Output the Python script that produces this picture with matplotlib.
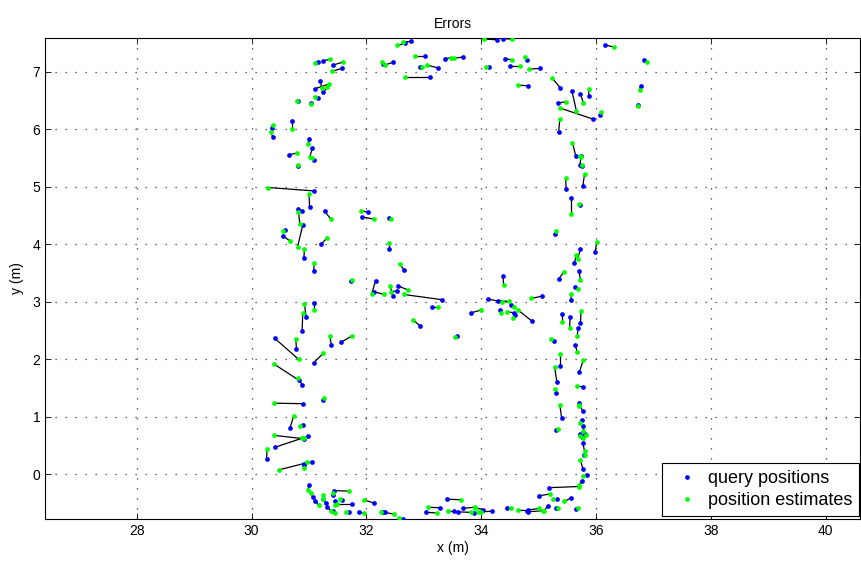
import matplotlib; matplotlib.use("Agg")
import matplotlib.pyplot as plt
import numpy as np

plt.rcParams["font.family"] = ["Liberation Sans", "DejaVu Sans"]

# query positions (blue) and matching position estimates (green), metres
qx = [31.16, 31.24, 31.42, 31.57, 31.20, 31.11, 31.25, 30.81, 31.15, 31.04,
      30.71, 30.35, 30.37, 31.00, 31.06, 31.08, 30.65, 30.81, 32.29, 32.78,
      32.68, 32.47, 33.02, 32.94, 33.25, 33.37, 33.69, 33.11, 34.27, 34.38,
      34.42, 34.13, 34.51, 34.80, 34.81, 35.03, 35.38, 35.58, 35.95, 35.34,
      35.73, 35.88, 36.07, 36.16, 36.83, 36.78, 36.74, 35.35, 35.65, 35.74,
      35.72, 35.75, 35.48, 35.77, 35.56, 35.72, 35.28, 35.98, 35.73, 35.62,
      35.35, 35.70, 35.64, 35.56, 35.06, 34.88, 35.41, 35.55, 35.73, 35.69,
      35.26, 35.64, 35.38, 35.71, 35.32, 35.77, 35.30, 35.40, 35.70, 35.77,
      35.31, 35.75, 35.77, 35.73, 35.80, 35.75, 35.77, 35.79, 35.77, 35.84,
      35.75, 35.19, 35.01, 35.32, 35.56, 35.16, 34.81, 34.82, 35.30, 35.66,
      33.40, 33.28, 33.04, 33.52, 33.59, 33.69, 34.03, 34.18, 33.87, 34.45,
      34.80, 32.32, 32.63, 30.67, 30.89, 30.92, 30.40, 30.98, 30.26, 30.91,
      31.06, 30.92, 31.00, 31.07, 31.11, 31.25, 31.30, 31.32, 31.42, 31.43,
      31.42, 31.45, 31.75, 31.58, 31.69, 31.87, 32.14, 32.29, 31.73, 32.16,
      32.13, 32.47, 32.55, 32.53, 33.31, 33.14, 32.94, 33.57, 33.82, 34.12,
      34.29, 34.52, 34.32, 34.58, 34.59, 34.38, 32.40, 32.40, 32.65, 31.09,
      31.01, 30.81, 30.88, 30.89, 31.27, 32.03, 31.92, 30.58, 30.54, 31.21,
      30.91, 31.08, 30.95, 31.09, 30.88, 30.40, 30.78, 31.39, 31.56, 31.08,
      30.82, 30.88, 31.24, 30.89]
qy = [7.18, 7.19, 7.12, 7.06, 6.84, 6.71, 6.65, 6.49, 6.54, 6.46,
      6.14, 6.02, 5.87, 5.83, 5.67, 5.46, 5.56, 5.37, 7.13, 7.53,
      7.50, 7.17, 7.28, 7.09, 7.07, 7.23, 7.26, 6.92, 7.56, 7.58,
      7.23, 7.09, 7.11, 7.20, 6.76, 7.06, 6.72, 6.67, 6.18, 6.46,
      6.62, 6.58, 6.25, 7.47, 7.20, 6.76, 6.42, 5.96, 5.53, 5.54,
      5.39, 5.37, 4.97, 5.01, 4.80, 4.68, 4.18, 3.86, 3.92, 3.67,
      3.40, 3.54, 3.26, 3.03, 3.10, 2.67, 2.79, 2.74, 2.64, 2.54,
      2.32, 2.25, 1.88, 1.78, 1.60, 1.52, 1.42, 0.99, 1.25, 1.11,
      0.77, 0.94, 0.84, 0.70, 0.70, 0.65, 0.55, 0.33, 0.10, -0.01,
      -0.11, -0.23, -0.37, -0.43, -0.41, -0.55, -0.62, -0.65, -0.59, -0.60,
      -0.43, -0.58, -0.66, -0.63, -0.65, -0.59, -0.61, -0.64, -0.67, -0.59,
      -0.63, -0.66, -0.77, 0.81, 0.86, 0.62, 0.47, 0.67, 0.26, 0.19,
      0.21, 0.17, -0.19, -0.40, -0.47, -0.42, -0.50, -0.57, -0.64, -0.28,
      -0.36, -0.46, -0.52, -0.44, -0.66, -0.66, -0.50, -0.66, 3.37, 3.37,
      3.18, 3.10, 3.28, 3.19, 3.04, 2.91, 2.58, 2.41, 2.81, 3.05,
      3.02, 2.94, 2.86, 2.81, 2.77, 3.45, 4.46, 3.92, 3.56, 4.93,
      4.65, 4.62, 4.59, 4.33, 4.58, 4.56, 4.48, 4.25, 4.15, 4.00,
      3.76, 3.53, 2.74, 2.98, 2.49, 2.37, 2.19, 2.25, 2.30, 1.94,
      1.64, 1.56, 1.30, 1.23]
ex = [31.10, 31.36, 31.59, 31.40, 31.22, 31.35, 31.32, 30.79, 31.11, 31.03,
      30.71, 30.37, 30.33, 30.99, 31.01, 31.06, 30.79, 30.81, 32.27, 32.64,
      32.54, 32.32, 32.84, 32.97, 33.05, 33.48, 33.53, 32.68, 34.05, 34.54,
      34.53, 34.09, 34.67, 34.76, 34.64, 34.84, 35.24, 35.66, 35.38, 35.47,
      35.78, 35.87, 36.08, 36.32, 36.89, 36.76, 36.74, 35.37, 35.59, 35.72,
      35.74, 35.76, 35.47, 35.80, 35.56, 35.70, 35.30, 36.02, 35.68, 35.66,
      35.44, 35.73, 35.68, 35.57, 34.87, 34.64, 35.41, 35.54, 35.74, 35.67,
      35.21, 35.67, 35.38, 35.78, 35.28, 35.67, 35.29, 35.37, 35.71, 35.71,
      35.34, 35.73, 35.77, 35.72, 35.82, 35.78, 35.80, 35.81, 35.73, 35.77,
      35.71, 35.70, 35.20, 35.25, 35.45, 35.10, 35.01, 35.07, 35.33, 35.68,
      33.65, 33.08, 33.23, 33.42, 33.82, 33.89, 33.90, 33.99, 33.94, 34.52,
      34.64, 32.48, 32.57, 30.73, 30.85, 30.39, 30.88, 30.92, 30.27, 30.48,
      30.97, 30.91, 30.98, 31.03, 31.17, 31.24, 31.24, 31.38, 31.45, 31.69,
      31.41, 31.45, 31.48, 31.54, 31.64, 31.95, 31.95, 32.25, 31.75, 32.09,
      32.30, 32.41, 32.72, 32.43, 32.65, 33.25, 32.82, 33.54, 34.00, 34.36,
      34.48, 34.58, 34.34, 34.45, 34.56, 34.39, 32.42, 32.40, 32.58, 30.29,
      31.00, 30.84, 30.81, 30.80, 31.38, 31.90, 32.13, 30.54, 30.67, 31.32,
      30.92, 31.09, 30.92, 31.09, 30.89, 30.82, 30.77, 31.36, 31.75, 31.25,
      30.39, 30.81, 31.26, 30.39]
ey = [7.16, 7.22, 7.17, 7.01, 6.72, 6.79, 6.73, 6.50, 6.56, 6.45,
      6.01, 6.08, 5.96, 5.74, 5.52, 5.50, 5.59, 5.38, 7.17, 7.52,
      7.46, 7.12, 7.28, 7.08, 7.12, 7.25, 7.24, 6.92, 7.57, 7.57,
      7.21, 7.09, 7.11, 7.26, 6.77, 7.05, 6.89, 6.32, 6.37, 6.48,
      6.46, 6.70, 6.30, 7.43, 7.18, 6.68, 6.41, 6.18, 5.77, 5.53,
      5.52, 5.38, 5.16, 5.22, 4.53, 4.71, 4.23, 4.05, 3.75, 3.82,
      3.52, 3.39, 3.23, 3.13, 3.06, 2.86, 2.65, 2.54, 2.85, 2.40,
      2.36, 2.13, 2.10, 1.99, 1.86, 1.54, 1.49, 1.21, 1.19, 1.20,
      0.79, 0.90, 0.76, 0.66, 0.68, 0.63, 0.41, 0.34, 0.25, -0.03,
      -0.18, -0.21, -0.34, -0.43, -0.47, -0.63, -0.59, -0.63, -0.58, -0.58,
      -0.44, -0.57, -0.67, -0.63, -0.66, -0.57, -0.58, -0.65, -0.66, -0.59,
      -0.62, -0.69, -0.76, 1.01, 0.85, 0.68, 0.63, 0.63, 0.44, 0.08,
      0.21, 0.12, -0.27, -0.33, -0.54, -0.36, -0.43, -0.63, -0.67, -0.29,
      -0.33, -0.53, -0.52, -0.43, -0.65, -0.67, -0.44, -0.66, 3.38, 3.13,
      3.13, 3.28, 3.21, 3.18, 3.13, 2.91, 2.68, 2.39, 2.86, 3.00,
      3.01, 2.91, 2.80, 2.83, 2.72, 3.30, 4.44, 4.02, 3.66, 4.99,
      4.87, 4.36, 4.57, 3.96, 4.44, 4.59, 4.44, 4.24, 4.06, 4.12,
      3.92, 3.67, 2.97, 2.86, 2.80, 2.00, 2.36, 2.41, 2.41, 2.11,
      1.92, 1.67, 1.33, 1.24]

x_ticks = [28, 30, 32, 34, 36, 38, 40]
y_ticks = [0, 1, 2, 3, 4, 5, 6, 7]

fig = plt.figure(figsize=(8.61, 5.64), dpi=100)
ax = fig.add_axes([45 / 861, 45 / 564, 815 / 861, 481 / 564])

# error segments between each query and its estimate
ax.plot(np.array([qx, ex]), np.array([qy, ey]), color="black", lw=0.9, zorder=2)
ax.plot(qx, qy, "o", color="#0000ff", ms=3.4, mew=0, zorder=3, label="query positions")
ax.plot(ex, ey, "o", color="#00ff00", ms=3.4, mew=0, zorder=4, label="position estimates")

ax.set_xlim(26.4, 40.6)
ax.set_ylim(-0.775, 7.59)
ax.set_xticks(x_ticks)
ax.set_yticks(y_ticks)
ax.tick_params(direction="in", top=True, right=True, length=4, width=0.6, labelsize=10)
ax.grid(True, linestyle=(0, (1, 7)), color="0.2", lw=0.9)
for s in ax.spines.values():
    s.set_linewidth(0.8)

ax.set_title("Errors", fontsize=10, pad=7)
ax.set_xlabel("x (m)", fontsize=10, labelpad=2)
ax.set_ylabel("y (m)", fontsize=10, labelpad=6)

leg = ax.legend(loc="lower right", bbox_to_anchor=(0.999, 0.006), borderaxespad=0,
                fontsize=13, fancybox=False, framealpha=1, edgecolor="black",
                handlelength=2.0, handletextpad=0.15, borderpad=0.4, labelspacing=0.25,
                markerscale=1.0)
leg.get_frame().set_linewidth(0.8)

fig.savefig("out.png", dpi=100)
